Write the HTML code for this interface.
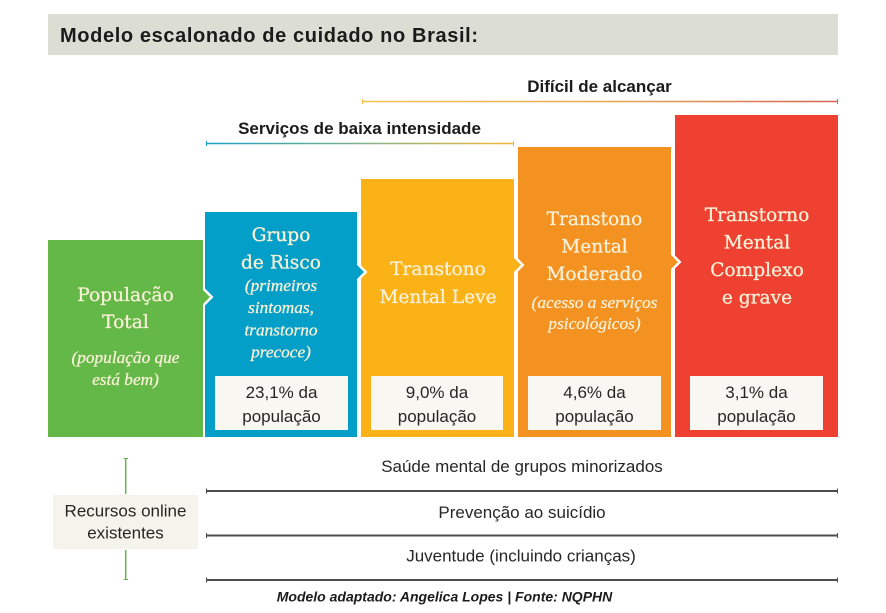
<!DOCTYPE html>
<html><head><meta charset="utf-8"><style>
html,body{margin:0;padding:0;background:#fff;}
svg{display:block;}
.t{font-family:"Liberation Sans",Arial,sans-serif;}
.s{font-family:"DejaVu Serif","Liberation Serif",serif;}
.si{font-family:"Liberation Serif",serif;font-style:italic;}
</style></head><body>
<svg width="886" height="613" viewBox="0 0 886 613" xmlns="http://www.w3.org/2000/svg">
<defs>
<linearGradient id="g1" gradientUnits="userSpaceOnUse" x1="362" y1="0" x2="838" y2="0">
<stop offset="0" stop-color="#f7c24e"/><stop offset="0.5" stop-color="#eca955"/><stop offset="1" stop-color="#d5634f"/>
</linearGradient>
<linearGradient id="g2" gradientUnits="userSpaceOnUse" x1="206" y1="0" x2="514" y2="0">
<stop offset="0" stop-color="#1aa2c6"/><stop offset="0.5" stop-color="#7fb08a"/><stop offset="1" stop-color="#f6b834"/>
</linearGradient>
</defs>
<rect width="886" height="613" fill="#ffffff"/>
<!-- title bar -->
<rect x="48" y="14" width="790" height="41" fill="#dcded3"/>
<text class="t" x="60" y="42" font-size="20" font-weight="bold" fill="#1b1b1b" textLength="418" lengthAdjust="spacing">Modelo escalonado de cuidado no Brasil:</text>

<!-- Difícil de alcançar -->
<text class="t" x="599.5" y="92" font-size="17" font-weight="bold" fill="#1b1b1b" text-anchor="middle">Difícil de alcançar</text>
<line x1="362" y1="101.5" x2="838" y2="101.5" stroke="url(#g1)" stroke-width="1.6"/>
<line x1="362.5" y1="99" x2="362.5" y2="104" stroke="#f7c24e" stroke-width="1"/>
<line x1="837.5" y1="99" x2="837.5" y2="104" stroke="#d5634f" stroke-width="1"/>

<!-- Serviços de baixa intensidade -->
<text class="t" x="359.5" y="134" font-size="17" font-weight="bold" fill="#1b1b1b" text-anchor="middle">Serviços de baixa intensidade</text>
<line x1="206" y1="143.5" x2="514" y2="143.5" stroke="url(#g2)" stroke-width="1.6"/>
<line x1="206.5" y1="141" x2="206.5" y2="146" stroke="#1aa2c6" stroke-width="1"/>
<line x1="513.5" y1="141" x2="513.5" y2="146" stroke="#f6b834" stroke-width="1"/>

<!-- boxes -->
<rect x="48" y="240" width="155" height="197" fill="#63b847"/>
<rect x="205" y="212" width="152" height="225" fill="#049fc9"/>
<rect x="361" y="179" width="153" height="258" fill="#fbb217"/>
<rect x="518" y="147" width="153" height="290" fill="#f39121"/>
<rect x="675" y="115" width="163" height="322" fill="#ee4131"/>

<!-- chevrons -->
<polygon points="203,286.5 213.5,297 203,307.5" fill="#ffffff"/>
<polygon points="202,289 210,297 202,305" fill="#63b847"/>
<polygon points="357,261.5 367.5,272 357,282.5" fill="#ffffff"/>
<polygon points="356,264 364,272 356,280" fill="#049fc9"/>
<polygon points="514,254.5 524.5,265 514,275.5" fill="#ffffff"/>
<polygon points="513,257 521,265 513,273" fill="#fbb217"/>
<polygon points="671,251.5 681.5,262 671,272.5" fill="#ffffff"/>
<polygon points="670,254 678,262 670,270" fill="#f39121"/>

<!-- serif texts -->
<g fill="#f8f0d6" stroke="#f8f0d6" stroke-width="0.3" text-anchor="middle">
<text class="s" x="125.5" y="301" font-size="18.6">População</text>
<text class="s" x="125.5" y="328" font-size="18.6">Total</text>
<text class="si" x="125.5" y="363" font-size="17.3">(população que</text>
<text class="si" x="125.5" y="385" font-size="17.3">está bem)</text>

<text class="s" x="281" y="241" font-size="18.6">Grupo</text>
<text class="s" x="281" y="268.5" font-size="18.6">de Risco</text>
<text class="si" x="281" y="291" font-size="17.3">(primeiros</text>
<text class="si" x="281" y="313" font-size="17.3">sintomas,</text>
<text class="si" x="281" y="335.5" font-size="17.3">transtorno</text>
<text class="si" x="281" y="357.5" font-size="17.3">precoce)</text>

<text class="s" x="438" y="275" font-size="18.6">Transtono</text>
<text class="s" x="438" y="303" font-size="18.6">Mental Leve</text>

<text class="s" x="594.5" y="225" font-size="18.6">Transtono</text>
<text class="s" x="594.5" y="252.5" font-size="18.6">Mental</text>
<text class="s" x="594.5" y="280" font-size="18.6">Moderado</text>
<text class="si" x="594.5" y="308" font-size="17.3">(acesso a serviços</text>
<text class="si" x="594.5" y="329" font-size="17.3">psicológicos)</text>

<text class="s" x="757" y="221" font-size="18.6">Transtorno</text>
<text class="s" x="757" y="248.5" font-size="18.6">Mental</text>
<text class="s" x="757" y="276" font-size="18.6">Complexo</text>
<text class="s" x="757" y="303.5" font-size="18.6">e grave</text>
</g>

<!-- percentage boxes -->
<rect x="215" y="376" width="133" height="54" fill="#f8f7f2"/>
<rect x="371" y="376" width="132" height="54" fill="#f8f7f2"/>
<rect x="528" y="376" width="133" height="54" fill="#f8f7f2"/>
<rect x="690" y="376" width="133" height="54" fill="#f8f7f2"/>
<g class="t" font-size="17" fill="#262626" text-anchor="middle">
<text x="281.5" y="398">23,1% da</text>
<text x="281.5" y="422">população</text>
<text x="437" y="398">9,0% da</text>
<text x="437" y="422">população</text>
<text x="594.5" y="398">4,6% da</text>
<text x="594.5" y="422">população</text>
<text x="756.5" y="398">3,1% da</text>
<text x="756.5" y="422">população</text>
</g>

<!-- bottom section -->
<line x1="125.7" y1="458" x2="125.7" y2="494" stroke="#6cb14f" stroke-width="1.5"/>
<line x1="123.5" y1="458.5" x2="128" y2="458.5" stroke="#6cb14f" stroke-width="1"/>
<line x1="125.7" y1="550" x2="125.7" y2="580" stroke="#6cb14f" stroke-width="1.5"/>
<line x1="123.5" y1="579.5" x2="128" y2="579.5" stroke="#6cb14f" stroke-width="1"/>
<rect x="53" y="495" width="145" height="54" fill="#f5f4ec"/>
<g class="t" font-size="17" fill="#262626" text-anchor="middle">
<text x="125.5" y="516.5">Recursos online</text>
<text x="125.5" y="538.5">existentes</text>
<text x="522" y="472">Saúde mental de grupos minorizados</text>
<text x="522" y="518">Prevenção ao suicídio</text>
<text x="521" y="561.5">Juventude (incluindo crianças)</text>
</g>
<g stroke="#4d4d4d">
<line x1="206" y1="491" x2="838" y2="491" stroke-width="2"/>
<line x1="206" y1="535.5" x2="838" y2="535.5" stroke-width="2"/>
<line x1="206" y1="580" x2="838" y2="580" stroke-width="2"/>
<line x1="206.5" y1="488.5" x2="206.5" y2="493.5" stroke-width="1"/>
<line x1="837.5" y1="488.5" x2="837.5" y2="493.5" stroke-width="1"/>
<line x1="206.5" y1="533" x2="206.5" y2="538" stroke-width="1"/>
<line x1="837.5" y1="533" x2="837.5" y2="538" stroke-width="1"/>
<line x1="206.5" y1="577.5" x2="206.5" y2="582.5" stroke-width="1"/>
<line x1="837.5" y1="577.5" x2="837.5" y2="582.5" stroke-width="1"/>
</g>
<text class="t" x="444.5" y="601.5" font-size="14" font-weight="bold" font-style="italic" fill="#1b1b1b" text-anchor="middle">Modelo adaptado: Angelica Lopes | Fonte: NQPHN</text>
</svg>
</body></html>
